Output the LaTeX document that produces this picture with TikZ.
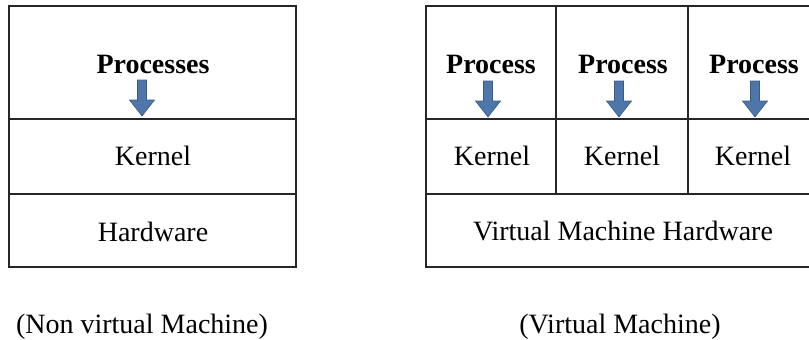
\documentclass[tikz,border=0pt]{standalone}
\usepackage{fontspec}
\setmainfont{Liberation Serif}
\usetikzlibrary{positioning}
\definecolor{arrowblue}{RGB}{79,118,168}
\definecolor{arrowedge}{RGB}{58,90,136}
\newcommand\procarrow[1]{%
  \filldraw[blockarrow] (#1) ++(-4.5,0) -- ++(0,20) -- ++(-8,0) -- ++(12.5,16)
    -- ++(12.5,-16) -- ++(-8,0) -- ++(0,-20) -- cycle;}

\begin{document}
\begin{tikzpicture}[x=0.5pt, y=-0.5pt, font=\fontsize{14}{16}\selectfont,
    frame/.style={line width=0.75pt, draw=black!85},
    layer/.style={inner sep=0pt, anchor=base},
    proc/.style={layer, font=\fontsize{14}{16}\selectfont\bfseries},
    blockarrow/.style={fill=arrowblue, draw=arrowedge, line width=0.3pt}]
    \useasboundingbox (0,0) rectangle (809,339);
    % non virtual machine
    \draw[frame] (9,6) rectangle (296,267);
    \draw[frame] (9,119) -- (296,119);
    \draw[frame] (9,194) -- (296,194);
    \node[proc] (procs) at (153,73) {Processes};
    \coordinate (procsarrow) at (142,80);
    \procarrow{procsarrow}
    \node[layer] (kern) at (153,165) {Kernel};
    \node[layer] (hw) at (153,241) {Hardware};
    \node[layer] (nvm) at (142,333) {(Non virtual Machine)};
    % virtual machine
    \draw[frame] (426,6) rectangle (815,267);
    \draw[frame] (426,119) -- (815,119);
    \draw[frame] (426,194) -- (815,194);
    \draw[frame] (556,6) -- (556,194);
    \draw[frame] (688,6) -- (688,194);
    \foreach \i/\tx/\ax/\kx in {1/491/488/492, 2/623/619/622, 3/754/755/753} {
        \node[proc] (proc\i) at (\tx,73) {Process};
        \coordinate (arrow\i) at (\ax,81);
        \procarrow{arrow\i}
        \node[layer] (kern\i) at (\kx,165) {Kernel};
    }
    \node[layer] (vmhw) at (623,240) {Virtual Machine Hardware};
    \node[layer] (vm) at (620,333) {(Virtual Machine)};
\end{tikzpicture}
\end{document}
